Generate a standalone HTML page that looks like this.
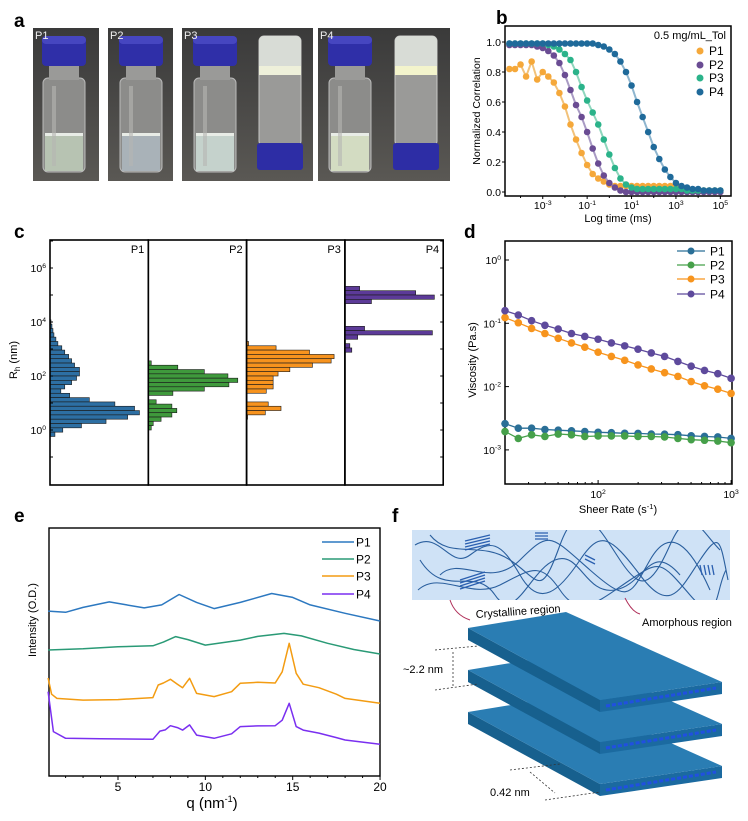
<!DOCTYPE html>
<html><head><meta charset="utf-8"><style>
html,body{margin:0;padding:0;background:#fff;}
svg{display:block;font-family:"Liberation Sans",Arial,sans-serif;}
</style></head><body>
<svg id="fig" width="748" height="821" viewBox="0 0 748 821" xmlns="http://www.w3.org/2000/svg">
<defs><clipPath id="filmclip"><rect x="412" y="530" width="318" height="70"/></clipPath></defs>
<g id="pa"></g>
<g id="pb"></g>
<g id="pc"></g>
<g id="pd"></g>
<g id="pe"></g>
<g id="pf">
  <rect x="412" y="530" width="318" height="70" fill="#cfe2f6"/>
  <g fill="none" stroke="#2a5f9e" stroke-width="1.1" clip-path="url(#filmclip)">
    <path d="M415 545 C440 530,450 570,470 555 S500 540,520 575 S560 590,580 560 S610 535,640 575 S680 590,700 560 S720 540,728 580"/>
    <path d="M418 590 C440 570,470 600,500 585 S540 560,560 590 S600 600,630 580 S660 560,690 595 S715 590,726 570"/>
    <path d="M430 535 C450 560,480 540,510 560 S540 600,560 545 S600 530,620 560 S650 590,670 545 S700 530,720 550"/>
    <path d="M440 575 C460 555,490 590,520 560 S550 535,590 570 S630 595,650 560 S690 545,710 590"/>
    <path d="M420 560 C445 600,475 565,495 595 S530 570,555 560 S585 595,615 590 S650 540,680 575"/>
  </g>
  <g stroke="#2a5fb0" stroke-width="1.3">
    <path d="M465 541 L490 535 M465 544 L490 538 M465 547 L490 541 M465 550 L490 544"/>
    <path d="M460 580 L485 572 M460 583 L485 575 M460 586 L485 578 M460 589 L485 581"/>
    <path d="M535 533 L548 533 M535 536 L548 536 M535 539 L548 539"/>
    <path d="M700 565 L702 575 M704 565 L706 575 M708 565 L710 575 M712 565 L714 575"/>
    <path d="M585 555 L595 560 M585 559 L595 564"/>
  </g>
  <g id="slabs"></g>
  <path d="M450 600 Q455 615 470 620" fill="none" stroke="#b0305a" stroke-width="1"/>
  <path d="M625 598 Q632 612 640 614" fill="none" stroke="#b0305a" stroke-width="1"/>
  <text x="476" y="618" font-size="11" transform="rotate(-4 476 618)">Crystalline region</text>
  <text x="642" y="626" font-size="11">Amorphous region</text>
  <g stroke="#333" stroke-width="0.8" stroke-dasharray="2,2" fill="none">
    <path d="M435 650 L478 646 M435 690 L478 684 M453 652 L453 686"/>
    <path d="M510 770 L560 764 M545 800 L600 792 M530 772 L555 793"/>
  </g>
  <text x="403" y="673" font-size="11">~2.2 nm</text>
  <text x="490" y="796" font-size="11">0.42 nm</text>
</g>
<g id="labels" font-weight="bold" font-size="19">
  <text x="14" y="27">a</text>
  <text x="496" y="24">b</text>
  <text x="14" y="238">c</text>
  <text x="464" y="238">d</text>
  <text x="14" y="522">e</text>
  <text x="392" y="522">f</text>
</g>
</svg>
<script>
const NS="http://www.w3.org/2000/svg";
function mk(parent,tag,attrs,txt){const e=document.createElementNS(NS,tag);for(const k in attrs)e.setAttribute(k,attrs[k]);if(txt!==undefined)e.textContent=txt;parent.appendChild(e);return e;}
function supText(parent,x,y,base,exp,size,anchor){const t=mk(parent,'text',{x:x,y:y,'font-size':size,'text-anchor':anchor||'middle'});mk(t,'tspan',{},base);mk(t,'tspan',{'font-size':size*0.65,dy:-size*0.4},exp);return t;}

/* ---------- Panel b data ---------- */
const dlsLogTime=[-4.5,-4.25,-4,-3.75,-3.5,-3.25,-3,-2.75,-2.5,-2.25,-2,-1.75,-1.5,-1.25,-1,-0.75,-0.5,-0.25,0,0.25,0.5,0.75,1,1.25,1.5,1.75,2,2.25,2.5,2.75,3,3.25,3.5,3.75,4,4.25,4.5,4.75,5];
const dlsP1=[0.82,0.82,0.85,0.77,0.87,0.75,0.8,0.77,0.73,0.66,0.57,0.45,0.35,0.26,0.18,0.12,0.09,0.07,0.05,0.04,0.04,0.04,0.04,0.04,0.04,0.04,0.04,0.04,0.04,0.04,0.04,0.01,0.01,0.01,0.01,0.01,0.01,0.01,0.01];
const dlsP2=[0.98,0.98,0.98,0.98,0.98,0.97,0.96,0.94,0.91,0.86,0.78,0.68,0.58,0.5,0.4,0.29,0.19,0.11,0.06,0.03,0.01,0,0,0,0,0,0,0,0,0,0,0,0,0,0,0,0,0,0];
const dlsP3=[0.99,0.99,0.99,0.99,0.99,0.99,0.99,0.98,0.97,0.95,0.92,0.88,0.8,0.7,0.61,0.53,0.45,0.35,0.25,0.16,0.09,0.05,0.03,0.02,0.02,0.02,0.02,0.02,0.02,0.02,0.02,0.02,0.01,0.01,0.01,0.01,0.01,0.01,0.01];
const dlsP4=[0.99,0.99,0.99,0.99,0.99,0.99,0.99,0.99,0.99,0.99,0.99,0.99,0.99,0.99,0.99,0.99,0.98,0.97,0.95,0.92,0.87,0.8,0.71,0.6,0.5,0.4,0.3,0.22,0.15,0.1,0.06,0.04,0.03,0.02,0.02,0.01,0.01,0.01,0.01];
const dlsYTicks=[0,0.2,0.4,0.6,0.8,1.0];
const dlsXTicks=[-3,-1,1,3,5];
const dlsNames=['P1','P2','P3','P4'];

/* ---------- Panel c data (log10 Rh bin centre, relative length %) ---------- */
const rhP1Log=[4.0,3.84,3.68,3.52,3.36,3.2,3.04,2.88,2.72,2.56,2.4,2.24,2.08,1.92,1.76,1.6,1.44,1.28,1.12,0.96,0.8,0.64,0.48,0.32,0.16,0,-0.16];
const rhP1Val=[1,2,3,4,6,8,12,15,19,22,25,30,30,27,22,15,11,20,40,66,86,91,79,57,32,13,5];
const rhP2Log=[2.48,2.32,2.16,2.0,1.84,1.68,1.52,1.36,1.04,0.88,0.72,0.56,0.4,0.24,0.08];
const rhP2Val=[3,30,57,81,91,82,57,25,8,24,29,24,13,5,3];
const rhP3Log=[3.2,3.04,2.88,2.72,2.56,2.4,2.24,2.08,1.92,1.76,1.6,1.44,0.96,0.8,0.64,0.48];
const rhP3Val=[2,30,64,89,86,67,44,32,27,27,27,20,22,35,19,1];
const rhP4Log=[5.24,5.08,4.92,4.76,3.76,3.6,3.44,3.12,2.96];
const rhP4Val=[15,72,91,27,20,89,13,5,7];
const rhTicks=[0,2,4,6];

/* ---------- Panel d data ---------- */
const shearLog=[1.3,1.4,1.5,1.6,1.7,1.8,1.9,2.0,2.1,2.2,2.3,2.4,2.5,2.6,2.7,2.8,2.9,3.0];
const viscP1=[0.0026,0.0022,0.0022,0.0021,0.00205,0.002,0.00195,0.0019,0.00187,0.00183,0.00182,0.00178,0.00177,0.00174,0.00167,0.00163,0.0016,0.00152];
const viscP2=[0.00195,0.00152,0.00173,0.00163,0.00178,0.00173,0.00163,0.00166,0.00166,0.00166,0.00163,0.00163,0.0016,0.00152,0.00145,0.00142,0.00138,0.0013];
const viscP3=[0.123,0.102,0.083,0.069,0.058,0.049,0.042,0.035,0.030,0.026,0.022,0.019,0.0166,0.0145,0.012,0.0103,0.0091,0.0078];
const viscP4=[0.158,0.135,0.11,0.093,0.081,0.069,0.062,0.056,0.049,0.044,0.039,0.034,0.030,0.025,0.021,0.018,0.016,0.0135];
const viscYTicks=[0,-1,-2,-3];
const shearXTicks=[2,3];

/* ---------- Panel e data ---------- */
const xrdQ1=[1,2,3,4.5,5.5,6.5,7.5,8.5,9.5,10.5,12,13.8,15,16,18,20];
const xrdI1=[66.5,66,68,70.2,69,67.8,69,73.2,70,67.5,70,73.6,72,69,65.6,62.5];
const xrdQ2=[1,3,5,7,7.6,8.3,9,10,12,13,14.5,15.5,17,18.5,20];
const xrdI2=[50.8,51.3,52.1,52.5,54,56.2,55,52.8,54.8,56.3,57.5,56.5,53.5,51,49.2];
const xrdQ3=[1,1.2,1.5,3,5,7,7.3,7.6,8,8.4,8.7,9.1,9.5,10.5,11.5,12,13,14,14.4,14.8,15.2,15.6,16.5,17.5,18,20];
const xrdI3=[39.5,33,31.3,30.6,30.8,31.6,36.7,37.5,39,37,35.6,39.4,33.3,32,34,37.4,37.8,37.5,42,53.5,41.4,37,35.6,33,31.3,29.3];
const xrdQ4=[1,1.3,2,4,7,7.4,7.7,8,8.4,8.7,9.1,9.5,10.5,11.5,12,13,14,14.4,14.8,15.2,15.6,16.5,17.5,18,20];
const xrdI4=[34,17.9,15.2,15,14.8,18.1,18.6,20.3,19.5,18.5,20.6,16.5,15.2,17,19.9,20.2,20.3,22.5,29.3,19.9,18.5,17.3,15.5,14.5,12.8];
const xrdXTicks=[5,10,15,20];

/* ===== Panel a: photos ===== */
(function(){
  const g=document.getElementById('pa');
  const defs=mk(g,'defs',{});
  const lg=mk(defs,'linearGradient',{id:'bg',x1:0,y1:0,x2:0,y2:1});
  mk(lg,'stop',{offset:'0','stop-color':'#3a3a3a'});mk(lg,'stop',{offset:'1','stop-color':'#5a5854'});
  const photos=[[33,66,'P1'],[108,65,'P2'],[182,131,'P3'],[318,132,'P4']];
  photos.forEach(p=>{
    const r=mk(g,'rect',{x:p[0],y:28,width:p[1],height:153,fill:'url(#bg)'});
    
    
  });
  function vial(cx,liq){
    mk(g,'rect',{x:cx-21,y:78,width:42,height:94,rx:5,fill:'#8c8c8a',stroke:'#bbb','stroke-width':1});
    mk(g,'rect',{x:cx-15,y:66,width:30,height:14,fill:'#9a9a98'});
    mk(g,'rect',{x:cx-19,y:134,width:38,height:37,fill:liq});
    mk(g,'rect',{x:cx-19,y:133,width:38,height:3,fill:'#e8ece6'});
    mk(g,'rect',{x:cx-22,y:36,width:44,height:30,rx:4,fill:'#2f2fa8'});
    mk(g,'rect',{x:cx-22,y:36,width:44,height:8,rx:4,fill:'#4646c0'});
    mk(g,'rect',{x:cx-12,y:86,width:4,height:80,fill:'#b5b5b2',opacity:0.6});
  }
  function inverted(cx,gel){
    mk(g,'rect',{x:cx-21,y:36,width:42,height:110,rx:5,fill:'#9a9a98',stroke:'#c8c8c6','stroke-width':1});
    mk(g,'rect',{x:cx-21,y:36,width:42,height:34,rx:5,fill:'#d8dcd6'});
    mk(g,'rect',{x:cx-21,y:66,width:42,height:9,fill:gel});
    mk(g,'rect',{x:cx-23,y:143,width:46,height:27,rx:3,fill:'#2d2da5'});
  }
  vial(64,'#b7c3b2');vial(141,'#a9b2b8');vial(215,'#c5d2cc');inverted(280,'#eef0da');vial(350,'#d3dcc2');inverted(416,'#f3f4cc');
  photos.forEach(p=>mk(g,'text',{x:p[0]+2,y:39,'font-size':11,fill:'#eee'},p[2]));
})();

/* ===== Panel b ===== */
(function(){
  const g=document.getElementById('pb');
  const X0=505,X1=731,Y0=26,Y1=196;
  const xs=lg=>X0+(lg+4.7)*22.2, ys=v=>192-v*150;
  const cols=['#f5a83a','#6a4c93','#2bb38a','#1f6a9a'];
  const fits=['#f2c27a','#a99bc4','#8fd6bd','#8fb6cf'];
  const series=[dlsP1,dlsP2,dlsP3,dlsP4];
  const frame=mk(g,'rect',{x:X0,y:Y0,width:X1-X0,height:Y1-Y0,fill:'none',stroke:'#000','stroke-width':1.5});
  
  dlsYTicks.forEach(v=>{mk(g,'line',{x1:X0-3,x2:X0,y1:ys(v),y2:ys(v),stroke:'#000'});mk(g,'text',{x:X0-4,y:ys(v)+4,'font-size':10.5,'text-anchor':'end'},v.toFixed(1));});
  for(let d=-4;d<=5;d++){mk(g,'line',{x1:xs(d),x2:xs(d),y1:Y1,y2:Y1+(d%2?3:2),stroke:'#000'});}
  dlsXTicks.forEach(d=>{supText(g,xs(d),Y1+13,'10',String(d),10.5);});
  const xl=mk(g,'text',{x:618,y:222,'font-size':11,'text-anchor':'middle'},'Log time (ms)');
  
  const yl=mk(g,'text',{x:0,y:0,'font-size':10.5,'text-anchor':'middle',transform:'translate(480,111) rotate(-90)'},'Normalized Correlation');
  
  series.forEach((s,i)=>{
    const pts=s.map((v,j)=>xs(dlsLogTime[j]).toFixed(1)+','+ys(v).toFixed(1)).join(' ');
    const l=mk(g,'polyline',{points:pts,fill:'none',stroke:fits[i],'stroke-width':2});
    
    s.forEach((v,j)=>{
      const c=mk(g,'circle',{cx:xs(dlsLogTime[j]),cy:ys(v),r:3.3,fill:cols[i]});
      
      
    });
  });
  mk(g,'text',{x:726,y:39,'font-size':11,'text-anchor':'end'},'0.5 mg/mL_Tol');
  [55,69,82,96].forEach((y,i)=>{
    const e=mk(g,'g',{});
    
    
    mk(e,'circle',{cx:700,cy:y-4,r:3.5,fill:cols[i]});
    mk(e,'text',{x:709,y:y,'font-size':12},dlsNames[i]);
  });
})();

/* ===== Panel c ===== */
(function(){
  const g=document.getElementById('pc');
  const X0=50,Y0=240,Y1=485,W=98.3;
  const ys=lg=>430-lg*27;
  const logs=[rhP1Log,rhP2Log,rhP3Log,rhP4Log], vals=[rhP1Val,rhP2Val,rhP3Val,rhP4Val];
  const cols=['#2d6fa3','#3f9a3c','#f7931e','#5c3a98'];
  const names=['P1','P2','P3','P4'];
  for(let p=0;p<4;p++){
    const px=X0+p*W;
    logs[p].forEach((lg,j)=>{
      const b=mk(g,'rect',{x:px,y:ys(lg)-2.15,width:vals[p][j]/100*W,height:4.3,fill:cols[p],stroke:'#1a1a1a','stroke-width':0.6});
      
      
    });
    mk(g,'rect',{x:px,y:Y0,width:W,height:Y1-Y0,fill:'none',stroke:'#000','stroke-width':1.6});
    mk(g,'text',{x:px+W-4,y:Y0+13,'font-size':11,'text-anchor':'end'},names[p]);
  }
  for(let d=-1;d<=7;d++){mk(g,'line',{x1:X0,x2:X0+3,y1:ys(d),y2:ys(d),stroke:'#000'});mk(g,'line',{x1:X0+4*W,x2:X0+4*W-3,y1:ys(d),y2:ys(d),stroke:'#000'});}
  rhTicks.forEach(d=>supText(g,X0-4,ys(d)+4,'10',String(d),10.5,'end'));
  const yl=mk(g,'text',{x:0,y:0,'font-size':11,'text-anchor':'middle',transform:'translate(17,360) rotate(-90)'});
  mk(yl,'tspan',{},'R');mk(yl,'tspan',{'font-size':8,dy:3},'h');mk(yl,'tspan',{dy:-3},' (nm)');
  
})();

/* ===== Panel d ===== */
(function(){
  const g=document.getElementById('pd');
  const X0=505,X1=732,Y0=241,Y1=484;
  const xs=lg=>X0+(lg-1.3)*133, ys=v=>260-Math.log10(v)*63.3;
  const cols=['#2a6f97','#46a04a','#f7941d','#5e4a9c'];
  const series=[viscP1,viscP2,viscP3,viscP4], names=['P1','P2','P3','P4'];
  mk(g,'rect',{x:X0,y:Y0,width:X1-X0,height:Y1-Y0,fill:'none',stroke:'#000','stroke-width':1.5});
  viscYTicks.forEach(d=>{mk(g,'line',{x1:X0,x2:X0+4,y1:260-d*63.3,y2:260-d*63.3,stroke:'#000'});supText(g,X0-4,260-d*63.3+4,'10',String(d),10.5,'end');});
  shearXTicks.forEach(d=>{mk(g,'line',{x1:xs(d),x2:xs(d),y1:Y1,y2:Y1-4,stroke:'#000'});supText(g,xs(d),Y1+14,'10',String(d),10.5);});
  [30,40,50,60,70,80,90,200,300,400,500,600,700,800,900].forEach(v=>{const x=xs(Math.log10(v));mk(g,'line',{x1:x,x2:x,y1:Y1,y2:Y1-2,stroke:'#000'});});
  const xl=mk(g,'text',{x:618,y:513,'font-size':11,'text-anchor':'middle'});
  mk(xl,'tspan',{},'Sheer Rate (s');mk(xl,'tspan',{'font-size':7.5,dy:-4},'-1');mk(xl,'tspan',{dy:4},')');
  
  const yl=mk(g,'text',{x:0,y:0,'font-size':11,'text-anchor':'middle',transform:'translate(476,360) rotate(-90)'},'Viscosity (Pa.s)');
  
  series.forEach((s,i)=>{
    const pts=s.map((v,j)=>xs(shearLog[j]).toFixed(1)+','+ys(v).toFixed(1)).join(' ');
    const l=mk(g,'polyline',{points:pts,fill:'none',stroke:cols[i],'stroke-width':1.3});
    
    s.forEach((v,j)=>{
      const c=mk(g,'circle',{cx:xs(shearLog[j]),cy:ys(v),r:3.8,fill:cols[i]});
      
      
    });
  });
  [251,265,279,294].forEach((y,i)=>{
    const e=mk(g,'g',{});
    
    
    mk(e,'line',{x1:677,x2:705,y1:y,y2:y,stroke:cols[i],'stroke-width':1.3});
    mk(e,'circle',{cx:691,cy:y,r:3.5,fill:cols[i]});
    mk(e,'text',{x:710,y:y+4.5,'font-size':12},names[i]);
  });
})();

/* ===== Panel e ===== */
(function(){
  const g=document.getElementById('pe');
  const X0=49,X1=380,Y0=528,Y1=776;
  const xs=q=>118+(q-5)*17.47, ys=v=>Y1-v*2.48;
  const cols=['#2c78c0','#2a9a76','#f39c12','#7a2ff0'];
  const qs=[xrdQ1,xrdQ2,xrdQ3,xrdQ4], is=[xrdI1,xrdI2,xrdI3,xrdI4], names=['P1','P2','P3','P4'];
  mk(g,'rect',{x:X0,y:Y0,width:X1-X0,height:Y1-Y0,fill:'none',stroke:'#000','stroke-width':1.4});
  for(let q=2;q<=20;q++){const x=xs(q);mk(g,'line',{x1:x,x2:x,y1:Y1,y2:Y1+(q%5?2:4),stroke:'#000'});}
  xrdXTicks.forEach(q=>mk(g,'text',{x:xs(q),y:Y1+15,'font-size':12,'text-anchor':'middle'},String(q)));
  const xl=mk(g,'text',{x:212,y:808,'font-size':15,'text-anchor':'middle'});
  mk(xl,'tspan',{},'q (nm');mk(xl,'tspan',{'font-size':9,dy:-6},'-1');mk(xl,'tspan',{dy:6},')');
  
  const yl=mk(g,'text',{x:0,y:0,'font-size':11,'text-anchor':'middle',transform:'translate(36,620) rotate(-90)'},'Intensity (O.D.)');
  
  qs.forEach((qa,i)=>{
    const pts=qa.map((q,j)=>xs(q).toFixed(1)+','+ys(is[i][j]).toFixed(1)).join(' ');
    const l=mk(g,'polyline',{points:pts,fill:'none',stroke:cols[i],'stroke-width':1.5,'stroke-linejoin':'round'});
    
    
  });
  [542,559,576,594].forEach((y,i)=>{
    const e=mk(g,'g',{});
    
    
    mk(e,'line',{x1:322,x2:354,y1:y,y2:y,stroke:cols[i],'stroke-width':1.5});
    mk(e,'text',{x:356,y:y+4.5,'font-size':12},names[i]);
  });
})();

/* ===== Panel f slabs ===== */
(function(){
  const g=document.getElementById('slabs');
  const T=12;
  [84,42,0].forEach((dy,i)=>{
    const s=mk(g,'g',{});
    
    
    const A=[468,628+dy],B=[566,612+dy],C=[722,682+dy],D=[600,700+dy];
    const p=a=>a[0]+','+a[1], pd=a=>a[0]+','+(a[1]+T);
    mk(s,'polygon',{points:[p(A),p(D),pd(D),pd(A)].join(' '),fill:'#17608e'});
    mk(s,'polygon',{points:[p(D),p(C),pd(C),pd(D)].join(' '),fill:'#1b6aa0'});
    mk(s,'polygon',{points:[p(A),p(B),p(C),p(D)].join(' '),fill:'#2a7db3'});
    mk(s,'line',{x1:D[0]+6,y1:D[1]+6,x2:C[0]-6,y2:C[1]+6,stroke:'#2050e0','stroke-width':3,'stroke-dasharray':'4,2'});
  });
})();
</script>
</body></html>
